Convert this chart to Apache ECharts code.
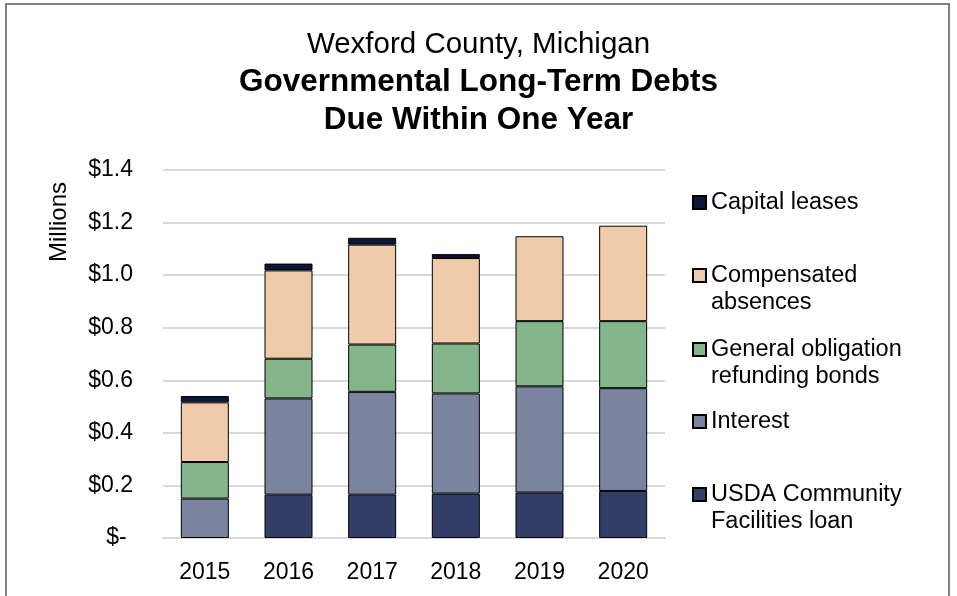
<!DOCTYPE html>
<html>
<head>
<meta charset="utf-8">
<script src="https://cdn.jsdelivr.net/npm/echarts@6/dist/echarts.min.js"></script>
<style>
  html, body { margin: 0; padding: 0; background: #fff; }
  #chart { width: 957px; height: 596px; }
</style>
</head>
<body>
<div id="chart"></div>
<script type="text/javascript">
// values in millions of dollars (null = no segment)
var years = ['2015', '2016', '2017', '2018', '2019', '2020'];
var usdaLoan = [null, 0.165, 0.165, 0.169, 0.173, 0.179];
var interest = [0.150, 0.366, 0.391, 0.381, 0.404, 0.391];
var goBonds = [0.139, 0.151, 0.180, 0.190, 0.248, 0.255];
var compAbsences = [0.227, 0.336, 0.380, 0.325, 0.323, 0.363];
var capitalLeases = [0.024, 0.026, 0.026, 0.015, null, null];
var yTicks = ['$-', '$0.2', '$0.4', '$0.6', '$0.8', '$1.0', '$1.2', '$1.4'];

var FONT = '"Liberation Sans", Arial, sans-serif';

var myChart = echarts.init(document.getElementById('chart'));

function bar(name, data, color) {
    return {
        name: name,
        type: 'bar',
        stack: 'debt',
        barWidth: 48,
        data: data,
        itemStyle: { color: color, borderColor: '#000', borderWidth: 1 }
    };
}

// one legend per item so the icon sits on the first text line
function legendItem(name, label, top) {
    return {
        data: [name],
        orient: 'vertical',
        left: 692,
        top: top,
        padding: 0,
        icon: 'rect',
        itemWidth: 13,
        itemHeight: 13,
        formatter: function () { return label; },
        textStyle: { fontFamily: FONT, fontSize: 23.5, color: '#000', lineHeight: 27 }
    };
}

var option = {
    backgroundColor: '#fff',
    animation: false,
    title: {
        left: 'center',
        top: 22,
        text: '{a|Wexford County, Michigan}\n{b|Governmental Long-Term Debts}\n{b|Due Within One Year}',
        textStyle: {
            rich: {
                a: { fontFamily: FONT, fontSize: 29.5, fontWeight: 'normal', color: '#000', lineHeight: 36 },
                b: { fontFamily: FONT, fontSize: 31.5, fontWeight: 'bold', color: '#000', lineHeight: 38 }
            }
        }
    },
    legend: [
        legendItem('Capital leases', ' \nCapital leases\n ', 202 - 40),
        legendItem('Compensated absences', ' \nCompensated\nabsences', 275 - 40),
        legendItem('General obligation refunding bonds', ' \nGeneral obligation\nrefunding bonds', 349 - 40),
        legendItem('Interest', ' \nInterest\n ', 421 - 40),
        legendItem('USDA Community Facilities loan', ' \nUSDA Community\nFacilities loan', 494 - 40)
    ],
    grid: { left: 163, right: 292, top: 170, bottom: 58 },
    xAxis: {
        type: 'category',
        data: years,
        axisLine: { lineStyle: { color: '#d9d9d9', width: 2 } },
        axisTick: { show: false },
        axisLabel: { fontFamily: FONT, fontSize: 23, color: '#000', margin: 23 }
    },
    yAxis: {
        type: 'value',
        min: 0,
        max: 1.4,
        interval: 0.2,
        axisLine: { show: false },
        axisTick: { show: false },
        splitLine: { lineStyle: { color: '#d9d9d9', width: 2 } },
        axisLabel: {
            fontFamily: FONT, fontSize: 23, color: '#000', margin: 30,
            formatter: function (v) {
                var i = Math.round(v / 0.2);
                return i === 0 ? yTicks[0] + ' ' : yTicks[i];
            }
        }
    },
    graphic: [
        {
            type: 'text',
            x: 59,
            y: 222,
            rotation: Math.PI / 2,
            style: {
                text: 'Millions',
                font: '24px ' + FONT,
                fill: '#000',
                align: 'center',
                verticalAlign: 'middle'
            }
        },
        {
            type: 'rect',
            shape: { x: 6, y: 4, width: 943, height: 620 },
            style: { fill: null, stroke: '#808080', lineWidth: 2 },
            silent: true
        }
    ],
    series: [
        bar('USDA Community Facilities loan', usdaLoan, '#343f69'),
        bar('Interest', interest, '#7b849f'),
        bar('General obligation refunding bonds', goBonds, '#85b68b'),
        bar('Compensated absences', compAbsences, '#efcbab'),
        bar('Capital leases', capitalLeases, '#0d1737')
    ]
};
myChart.setOption(option);
</script>
</body>
</html>
